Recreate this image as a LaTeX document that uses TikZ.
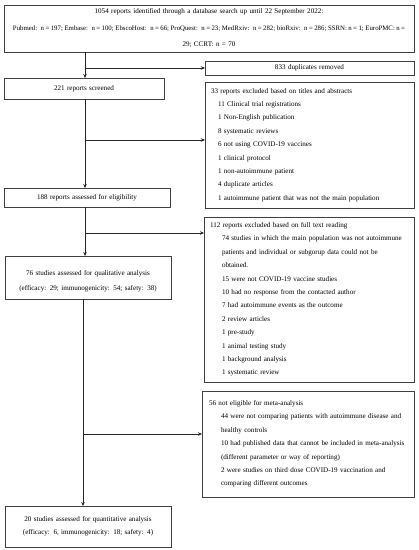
\documentclass[tikz,border=0pt]{standalone}
\usepackage{fontspec}
\setmainfont{Liberation Serif}
\usetikzlibrary{arrows.meta}
\begin{document}
\begin{tikzpicture}[x=1pt,y=-1pt,
  box/.style={draw=black!75, line width=0.6pt, rectangle, anchor=north west,
    inner xsep=0pt, inner ysep=0pt, outer sep=0pt, align=center,
    font=\fontsize{7.1}{13.4}\selectfont},
  listbox/.style={box, align=left},
  flow/.style={draw=black!85, line width=0.6pt},
  arr/.style={flow, -{Stealth[length=4pt,width=3.5pt]}}]
\useasboundingbox (0,0) rectangle (419,550);

\node[box, text width=410pt, minimum height=47pt,
  font=\fontsize{7.1}{16.5}\selectfont] (top) at (4,5)
  {1054 reports identified through a database search up until 22 September 2022:\\
   {\fontsize{6.8}{16.5}\selectfont\spaceskip=0.15em plus 1em\relax
   \makebox[392pt][s]{Pubmed: n = 197; Embase: n = 100; EbscoHost: n = 66; ProQuest: n = 23; MedRxiv: n = 282; bioRxiv: n = 286; SSRN: n = 1; EuroPMC: n =}}\\
   29; CCRT: n = 70};

\node[box, text width=209pt, minimum height=14pt] (dup) at (205,61) {833 duplicates removed};

\node[box, text width=160pt, minimum height=21pt] (screen) at (4,78) {221 reports screened};

\node[listbox, inner xsep=6pt, text width=197pt, minimum height=126pt] (ex1) at (205,82)
  {33 reports excluded based on titles and abstracts\\
   \hspace*{7pt}11 Clinical trial registrations\\
   \hspace*{7pt}1 Non-English publication\\
   \hspace*{7pt}8 systematic reviews\\
   \hspace*{7pt}6 not using COVID-19 vaccines\\
   \hspace*{7pt}1 clinical protocol\\
   \hspace*{7pt}1 non-autoimmune patient\\
   \hspace*{7pt}4 duplicate articles\\
   \hspace*{7pt}1 autoimmune patient that was not the main population};

\node[box, text width=166pt, minimum height=19pt] (elig) at (4,188) {188 reports assessed for eligibility};

\node[listbox, inner xsep=6pt, text width=198pt, minimum height=165pt] (ex2) at (204,217)
  {112 reports excluded based on full text reading\\
   \hspace*{12pt}74 studies in which the main population was not autoimmune\\
   \hspace*{12pt}patients and individual or subgorup data could not be\\
   \hspace*{12pt}obtained.\\
   \hspace*{12pt}15 were not COVID-19 vaccine studies\\
   \hspace*{12pt}10 had no response from the contacted author\\
   \hspace*{12pt}7 had autoimmune events as the outcome\\
   \hspace*{12pt}2 review articles\\
   \hspace*{12pt}1 pre-study\\
   \hspace*{12pt}1 animal testing study\\
   \hspace*{12pt}1 background analysis\\
   \hspace*{12pt}1 systematic review};

\node[box, text width=166pt, minimum height=43pt,
  font=\fontsize{7.1}{15}\selectfont] (qual) at (5,256)
  {\rule{0pt}{12pt}76 studies assessed for qualitative analysis\\
   (efficacy: 29; immunogenicity: 54; safety: 38)};

\node[listbox, inner xsep=7pt, text width=198pt, minimum height=106pt] (ex3) at (202,391)
  {56 not eligible for meta-analysis\\
   \hspace*{12pt}\makebox[186pt][s]{44 were not comparing patients with autoimmune disease and}\\
   \hspace*{12pt}healthy controls\\
   \hspace*{12pt}\makebox[186pt][s]{10 had published data that cannot be included in meta-analysis}\\
   \hspace*{12pt}(different parameter or way of reporting)\\
   \hspace*{12pt}\makebox[186pt][s]{2 were studies on third dose COVID-19 vaccination and}\\
   \hspace*{12pt}comparing different outcomes};

\node[box, text width=166pt, minimum height=41pt,
  font=\fontsize{7.1}{13}\selectfont] (quant) at (5,506)
  {20 studies assessed for quantitative analysis\\
   (efficacy: 6, immunogenicity: 18; safety: 4)};

\coordinate (b1) at (85,140);
\coordinate (b2) at (85,233);
\coordinate (b3) at (83,434);

\draw[arr] (top.south -| b1) -- (screen.north -| b1);
\draw[arr] (b1 |- dup.west) -- (dup.west);
\draw[arr] (screen.south -| b1) -- (elig.north -| b1);
\draw[arr] (b1) -- (b1 -| ex1.west);
\draw[arr] (elig.south -| b2) -- (qual.north -| b2);
\draw[arr] (b2) -- (b2 -| ex2.west);
\draw[arr] (qual.south -| b3) -- (quant.north -| b3);
\draw[arr] (b3) -- (b3 -| ex3.west);
\end{tikzpicture}
\end{document}
